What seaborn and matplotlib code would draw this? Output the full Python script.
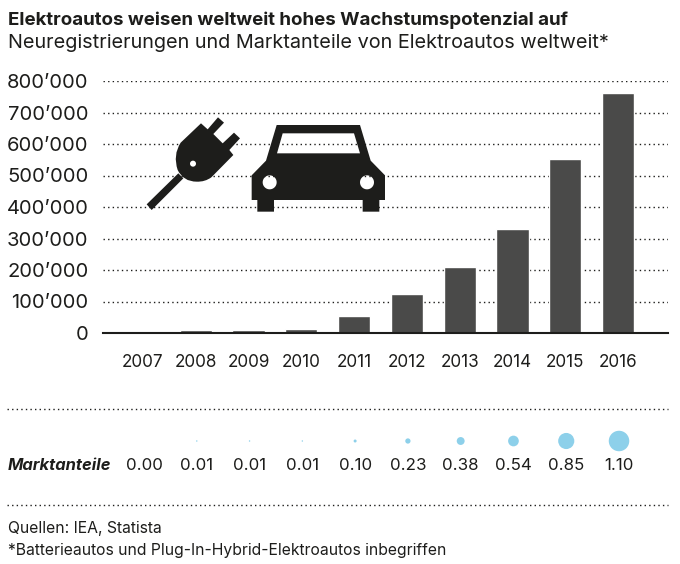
import numpy as np
import pandas as pd
import matplotlib
matplotlib.use("Agg")
import matplotlib.pyplot as plt
from matplotlib.patches import PathPatch
from matplotlib.path import Path
from matplotlib.ticker import FuncFormatter
import seaborn as sns

years = ["2007", "2008", "2009", "2010", "2011", "2012", "2013", "2014", "2015", "2016"]
registrations = [1000, 8000, 8000, 13000, 54000, 123000, 208000, 329000, 552000, 762000]
shares = [0.00, 0.01, 0.01, 0.01, 0.10, 0.23, 0.38, 0.54, 0.85, 1.10]
y_ticks = [0, 100000, 200000, 300000, 400000, 500000, 600000, 700000, 800000]

title = "Elektroautos weisen weltweit hohes Wachstumspotenzial auf"
subtitle = "Neuregistrierungen und Marktanteile von Elektroautos weltweit*"
row_label = "Marktanteile"
source_lines = ["Quellen: IEA, Statista", "*Batterieautos und Plug-In-Hybrid-Elektroautos inbegriffen"]

INK = "#1d1d1b"
BAR = "#4a4a49"
BUBBLE = "#8dd0ea"
FONT = "Inter"
W, H = 680, 564
DOTS = (0, (1, 2.3))

sns.set_theme(style="white", rc={"axes.spines.top": False, "axes.spines.right": False})
plt.rcParams["font.family"] = [FONT, "DejaVu Sans"]

fig = plt.figure(figsize=(W / 100, H / 100), dpi=100, facecolor="white")


def px_axes(left, top, right, bottom, **kw):
    return fig.add_axes([left / W, 1 - bottom / H, (right - left) / W, (bottom - top) / H], **kw)


# x range shared by the bars and the bubble row
x_limits = ((103 - 143) / 52.78, (668 - 143) / 52.78)

# registrations per year
ax = px_axes(103, 81, 668, 333)
frame = pd.DataFrame({"year": years, "registrations": registrations, "share": shares})
sns.barplot(data=frame, x="year", y="registrations", color=BAR, saturation=1,
            width=0.61, ax=ax, zorder=2)
ax.set_xlim(*x_limits)
ax.set_ylim(0, 800000)
ax.set_xlabel("")
ax.set_ylabel("")
ax.set_yticks(y_ticks)
ax.yaxis.set_major_formatter(FuncFormatter(lambda v, _: f"{int(v):,}".replace(",", "’")))
ax.tick_params(axis="y", length=0, pad=10.5, labelsize=14.5, labelcolor=INK)
ax.tick_params(axis="x", length=0, pad=15, labelsize=12.3, labelcolor=INK)
ax.yaxis.grid(True, color=INK, linewidth=1, linestyle=DOTS, zorder=0)
ax.set_axisbelow(True)
ax.spines["left"].set_visible(False)
ax.spines["bottom"].set_color(INK)
ax.spines["bottom"].set_linewidth(1.5)
ax.spines["bottom"].set_zorder(3)

# market share bubbles, diameter growing with the share
ax_b = px_axes(104, 425, 669, 457)
diameters = {s: 17.5 * s * 0.72 + (0.9 if s > 0 else 0) for s in shares}
sns.scatterplot(data=frame, x=np.arange(len(years)), y=np.zeros(len(years)), size="share",
                sizes={s: d ** 2 for s, d in diameters.items()}, color=BUBBLE,
                linewidth=0, legend=False, ax=ax_b)
ax_b.set_xlim(*x_limits)
ax_b.set_ylim(-1, 1)
ax_b.set_xlabel("")
ax_b.set_ylabel("")
ax_b.set_yticks([])
ax_b.set_xticks(range(len(years)))
ax_b.set_xticklabels([f"{s:.2f}" for s in shares])
ax_b.tick_params(axis="x", length=0, pad=1, labelsize=12.2, labelcolor=INK)
ax_b.patch.set_alpha(0)
for side in ax_b.spines.values():
    side.set_visible(False)

# page-level layer in pixel units: headings, rules, pictograms
page = fig.add_axes([0, 0, 1, 1], zorder=5)
page.set_xlim(0, W)
page.set_ylim(H, 0)
page.axis("off")
page.patch.set_alpha(0)

page.text(8, 25, title, fontsize=13.47, fontweight="bold", color=INK, va="baseline")
page.text(8, 48, subtitle, fontsize=14.3, color=INK, va="baseline")
page.text(8, 470, row_label, fontsize=11.9, fontweight="bold", fontstyle="italic", color=INK, va="baseline")
for line, base in zip(source_lines, [533, 555]):
    page.text(8, base, line, fontsize=11.3, color=INK, va="baseline")
for rule_y in (409, 505):
    page.plot([7, 668], [rule_y, rule_y], color=INK, linewidth=1, linestyle=DOTS)


def disc(cx, cy, r, n=48):
    t = np.linspace(0, -2 * np.pi, n)
    return np.column_stack([cx + r * np.cos(t), cy + r * np.sin(t)])


def shape(points, origin=(130, 100), scale=1 / 3):
    return np.asarray(points, float) * scale + origin


def poly_path(points):
    points = np.asarray(points)
    codes = [Path.MOVETO] + [Path.LINETO] * (len(points) - 1)
    return Path(points, codes)


car_outline = [(440, 75), (690, 75), (722, 182), (765, 226), (765, 300), (748, 300), (748, 335),
               (698, 335), (698, 300), (432, 300), (432, 335), (382, 335), (382, 300),
               (365, 300), (365, 226), (408, 182)]
car_window = [(458, 100), (441, 160), (690, 160), (672, 100)]
car = Path.make_compound_path(
    poly_path(shape(car_outline)),
    poly_path(shape(car_window)),
    poly_path(shape(disc(419, 247, 21))),
    poly_path(shape(disc(711, 247, 21))),
)
page.add_patch(PathPatch(car, facecolor=INK, edgecolor="none"))

plug_verts = [(213, 70), (233, 88), (264, 52), (282, 68), (250, 102), (278, 130),
              (312, 98), (330, 115), (298, 150), (310, 165), (244, 232),
              (225, 246), (200, 245), (160, 245), (143, 210), (128, 165), (152, 128), (213, 70)]
plug_codes = [Path.MOVETO] + [Path.LINETO] * 10 + [Path.CURVE3] * 6 + [Path.LINETO]
plug = Path.make_compound_path(
    Path(shape(plug_verts), plug_codes),
    poly_path(shape(disc(189, 191, 9))),
    poly_path(shape([(145, 220), (160, 235), (65, 330), (50, 313)])),
)
page.add_patch(PathPatch(plug, facecolor=INK, edgecolor="none"))

fig.savefig("out.png", dpi=100, facecolor="white")
